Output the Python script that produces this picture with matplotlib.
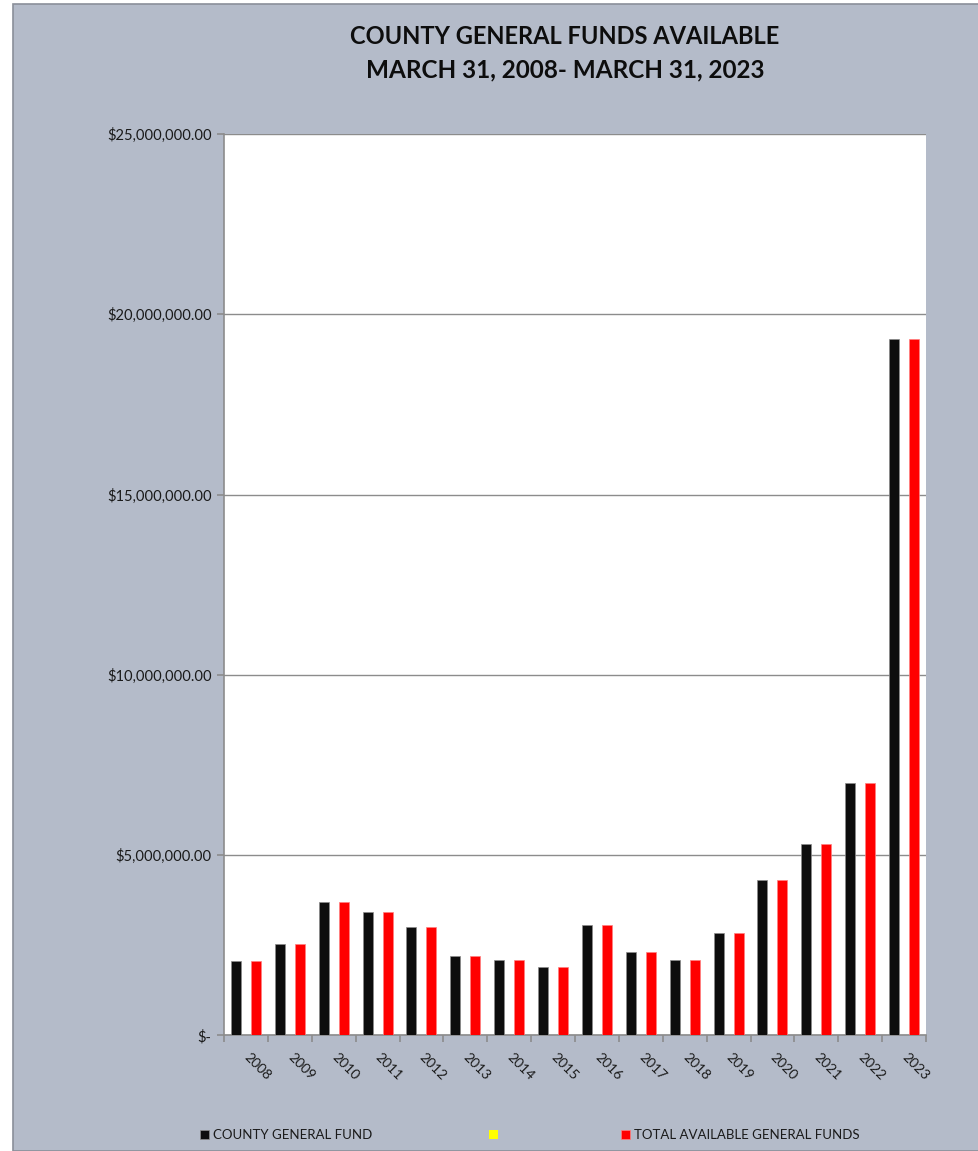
import numpy as np
import matplotlib
matplotlib.use("Agg")
import matplotlib.pyplot as plt
from matplotlib.patches import Rectangle
from matplotlib.ticker import FuncFormatter, MultipleLocator, FixedLocator

years = ["2008", "2009", "2010", "2011", "2012", "2013", "2014", "2015",
         "2016", "2017", "2018", "2019", "2020", "2021", "2022", "2023"]
county_general_fund = [2.06e6, 2.52e6, 3.70e6, 3.42e6, 3.00e6, 2.19e6, 2.08e6, 1.90e6,
                       3.07e6, 2.30e6, 2.09e6, 2.85e6, 4.31e6, 5.32e6, 6.99e6, 19.32e6]
unnamed_series = [0] * 16
total_available = [2.06e6, 2.52e6, 3.70e6, 3.42e6, 3.00e6, 2.19e6, 2.08e6, 1.90e6,
                   3.07e6, 2.30e6, 2.09e6, 2.85e6, 4.31e6, 5.32e6, 6.99e6, 19.32e6]
series_labels = ["COUNTY GENERAL FUND", " ", "TOTAL AVAILABLE GENERAL FUNDS"]
title_lines = ["COUNTY GENERAL FUNDS AVAILABLE", "MARCH 31, 2008- MARCH 31, 2023"]

W, H = 979, 1151
BG = "#b4bbc9"
FONT = ["Lato", "DejaVu Sans"]
plt.rcParams["font.family"] = FONT

fig = plt.figure(figsize=(W / 100, H / 100), dpi=100, facecolor="white")
fig.patches.append(Rectangle((13.5 / W, 0), 1, (H - 3.5) / H, transform=fig.transFigure,
                             facecolor=BG, edgecolor="#8a8f99", linewidth=1.2, zorder=-10))

ax = fig.add_axes([224 / W, (H - 1035.3) / H, (926 - 224) / W, (1035.3 - 134) / H])
ax.set_facecolor("white")

x = np.arange(len(years))
w = 0.228
b1 = ax.bar(x - w, county_general_fund, w, color="#0d0d0d", edgecolor="#8c8c8c", linewidth=0.5, zorder=3)
b2 = ax.bar(x, unnamed_series, w, color="#ffff00", zorder=3)
b3 = ax.bar(x + w, total_available, w, color="#ff0000", edgecolor="#ff8080", linewidth=0.5, zorder=3)

ax.set_xlim(-0.5, len(years) - 0.5)
ax.set_ylim(0, 25e6)
ax.yaxis.set_major_locator(MultipleLocator(5e6))

def money(v, pos):
    if abs(v) < 1:
        return "$-"
    return "${:,.2f}".format(v)

ax.yaxis.set_major_formatter(FuncFormatter(money))
ax.grid(axis="y", color="#8c8c8c", linewidth=1.0, zorder=1)
ax.set_axisbelow(True)

for s in ["top", "right"]:
    ax.spines[s].set_visible(False)
for s in ["left", "bottom"]:
    ax.spines[s].set_color("#8c8c8c")
    ax.spines[s].set_linewidth(1.2)

ax.set_xticks(x)
ax.set_xticklabels(years, rotation=-45, ha="left", va="center", rotation_mode="anchor")
ax.tick_params(axis="x", which="major", length=0, pad=14, labelsize=10, labelcolor="#1a1a1a")
ax.xaxis.set_minor_locator(FixedLocator(np.arange(-0.5, len(years), 1.0)))
ax.tick_params(axis="x", which="minor", length=5, color="#8c8c8c", width=1.2)
ax.tick_params(axis="y", length=5, color="#8c8c8c", width=1.2, labelsize=10.6,
               labelcolor="#1a1a1a", pad=4)

fig.text(565 / W, 1 - 36 / H, title_lines[0], ha="center", va="center",
         fontsize=17, fontweight="bold", color="#0d0d0d")
fig.text(565 / W, 1 - 70 / H, title_lines[1], ha="center", va="center",
         fontsize=17.5, fontweight="bold", color="#0d0d0d")

fig.legend([b1, b2, b3], series_labels, loc="center", bbox_to_anchor=(530 / W, 1 - 1135 / H),
           ncol=3, frameon=False, fontsize=9.5, handlelength=0.7, handleheight=0.7,
           handletextpad=0.3, columnspacing=8.8, labelcolor="#1a1a1a")

fig.savefig("out.png", dpi=100, facecolor="white")
